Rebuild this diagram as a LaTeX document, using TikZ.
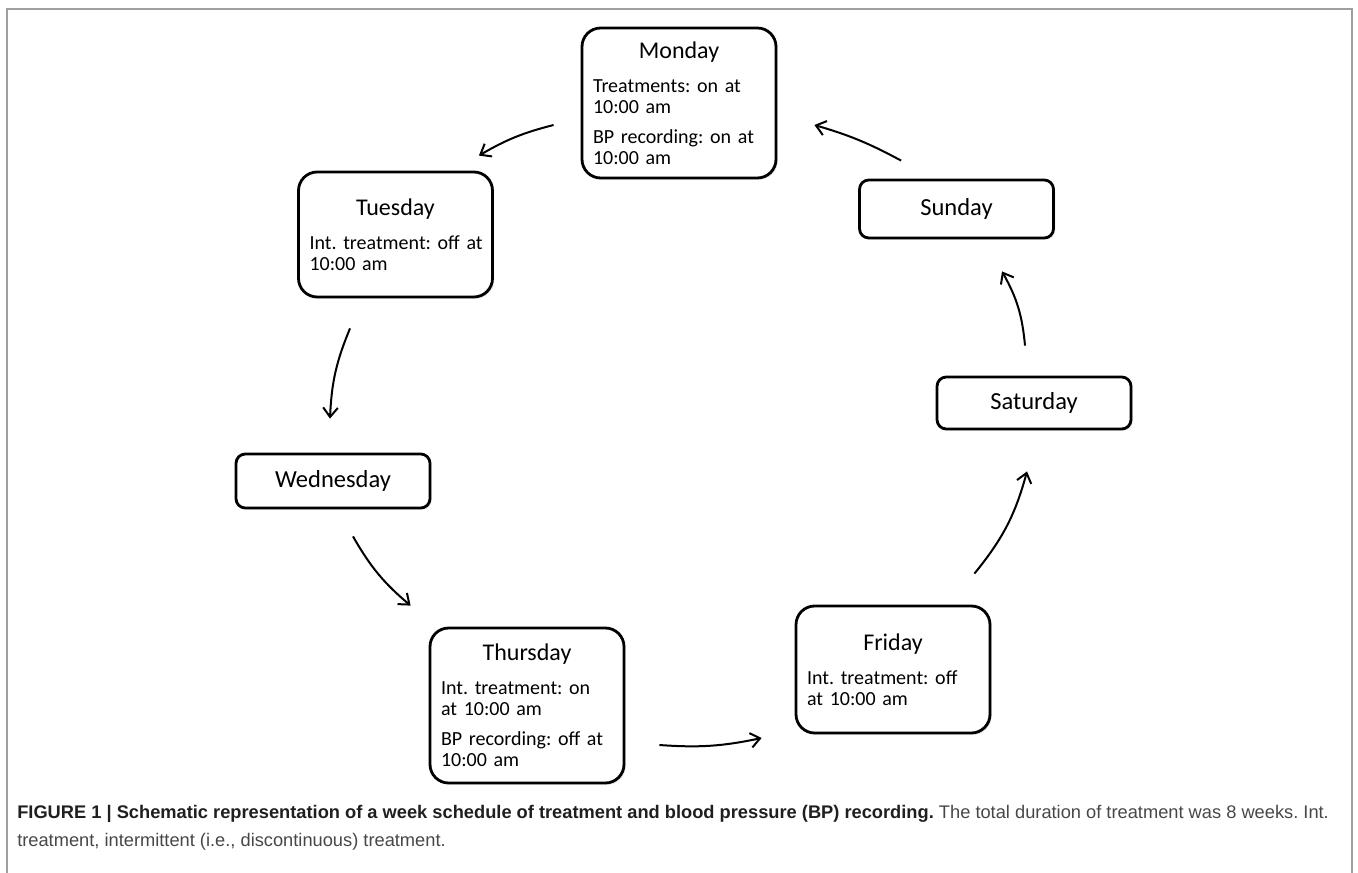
\documentclass[tikz,border=0pt]{standalone}
\usepackage{fontspec}
\setmainfont{Carlito}
\newfontfamily\capfont{Liberation Sans}
\usetikzlibrary{arrows.meta,shadows}
\frenchspacing
\tikzstyle{day}=[draw=black,line width=2.1pt,fill=white,rounded corners=14pt,
  text width=129pt,inner xsep=8.25pt,inner ysep=0pt,align=left,
  font=\fontsize{15}{15.6}\selectfont,
  drop shadow={shadow xshift=1.3pt,shadow yshift=-1.3pt,opacity=0.2}]
\tikzstyle{dayname}=[draw=black,line width=2.1pt,fill=white,rounded corners=7pt,
  minimum width=145.5pt,inner sep=0pt,font=\fontsize{18.4}{20}\selectfont,
  drop shadow={shadow xshift=1.3pt,shadow yshift=-1.3pt,opacity=0.2}]
\tikzstyle{flow}=[line width=1.5pt,-{Straight Barb[length=7pt,width=11pt]}]
\newcommand{\dayhead}[1]{\makebox[\hsize]{\fontsize{18}{20}\selectfont #1}\\[10pt]}

\begin{document}
\begin{tikzpicture}[x=0.75pt,y=0.75pt]
      \useasboundingbox (0,0) rectangle (1358,872);
      \draw[gray!75,line width=1.1pt] (7,-5) |- (1352,863) -- (1352,-5);

      % the days of the week
      \node[day,minimum height=112.5pt] (mon) at (679,769)
        {\dayhead{Monday}Treatments: on at\\10:00 am\\[7pt]BP recording: on at\\10:00 am};
      \node[day,minimum height=93.75pt] (tue) at (395.5,637.5)
        {\dayhead{Tuesday}\mbox{Int. treatment: off at}\\10:00 am};
      \node[dayname,minimum height=40.5pt] (wed) at (333,391) {Wednesday};
      \node[day,minimum height=116.25pt] (thu) at (527,166.5)
        {\dayhead{Thursday}Int. treatment: on\\at 10:00 am\\[7pt]BP recording: off at\\10:00 am};
      \node[day,minimum height=95.25pt] (fri) at (893,202.5)
        {\dayhead{Friday}Int. treatment: off\\at 10:00 am};
      \node[dayname,minimum height=39pt] (sat) at (1034,469) {Saturday};
      \node[dayname,minimum height=43.5pt] (sun) at (956.5,663) {Sunday};

      % ends of the arrows
      \coordinate (mon-out) at ([shift={(-27,-22)}]mon.west);
      \coordinate (tue-in) at ([shift={(-15,15)}]tue.north east);
      \coordinate (tue-out) at ([shift={(-45.5,-30)}]tue.south);
      \coordinate (wed-in) at ([shift={(-3,34)}]wed.north);
      \coordinate (wed-out) at ([shift={(20,-27)}]wed.south);
      \coordinate (thu-in) at ([shift={(-18,21)}]thu.north west);
      \coordinate (thu-out) at ([shift={(34,-39.5)}]thu.east);
      \coordinate (fri-in) at ([shift={(-33,-68.5)}]fri.west);
      \coordinate (fri-out) at ([shift={(-17,31)}]fri.north east);
      \coordinate (sat-in) at ([shift={(-7,-41)}]sat.south);
      \coordinate (sat-out) at ([shift={(-9,30)}]sat.north);
      \coordinate (sun-in) at ([shift={(45.5,-32)}]sun.south);
      \coordinate (sun-out) at ([shift={(43,18)}]sun.north west);
      \coordinate (mon-in) at ([shift={(37,-22)}]mon.east);

      \foreach \s/\t/\b in {mon/tue/8,tue/wed/10,wed/thu/10,thu/fri/8,
                            fri/sat/12,sat/sun/12,sun/mon/6}{
        \draw[flow] (\s-out) to[bend right=\b] (\t-in);
      }

      \node[anchor=north west,inner sep=0pt,align=left,
            font=\capfont\fontsize{13.7}{21}\selectfont] (caption) at (17,67)
        {{\bfseries\color{black!88}FIGURE 1 | Schematic representation of a week schedule of treatment and blood pressure (BP) recording.}
         \color{black!72}The total duration of treatment was 8 weeks. Int.\\
         \color{black!72}treatment, intermittent (i.e., discontinuous) treatment.};
\end{tikzpicture}
\end{document}
